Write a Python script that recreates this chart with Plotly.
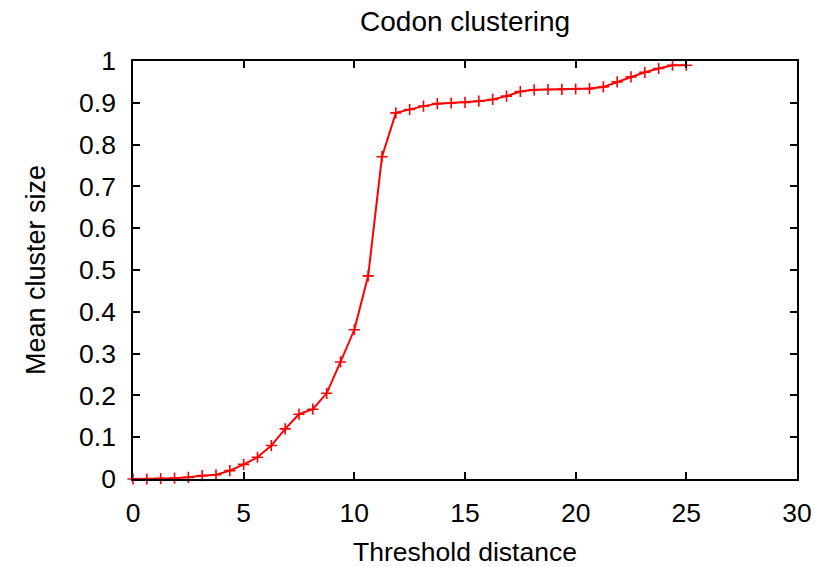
import plotly.graph_objects as go

# Threshold distance sampled in steps of 0.625
threshold = [i * 0.625 for i in range(41)]

mean_cluster_size = [
    0.000, 0.000, 0.001, 0.002, 0.004, 0.008, 0.010, 0.020, 0.035, 0.052,
    0.080, 0.120, 0.155, 0.167, 0.205, 0.280, 0.357, 0.486, 0.771, 0.876,
    0.884, 0.892, 0.898, 0.8995, 0.901, 0.904, 0.908, 0.916, 0.927, 0.931,
    0.9318, 0.932, 0.933, 0.934, 0.938, 0.950, 0.962, 0.973, 0.982, 0.990,
    0.990,
]

x_ticks = [0, 5, 10, 15, 20, 25, 30]
y_ticks = [0, 0.1, 0.2, 0.3, 0.4, 0.5, 0.6, 0.7, 0.8, 0.9, 1]
y_tick_text = ["0", "0.1", "0.2", "0.3", "0.4", "0.5", "0.6", "0.7", "0.8", "0.9", "1"]

FONT = "Liberation Sans, Arial, sans-serif"

fig = go.Figure()
fig.add_trace(go.Scatter(
    x=threshold,
    y=mean_cluster_size,
    mode="lines+markers",
    line=dict(color="#ff0000", width=2),
    marker=dict(symbol="cross-thin", size=8, color="#ff0000",
                line=dict(color="#ff0000", width=1.6)),
    showlegend=False,
    cliponaxis=False,
))

axis_common = dict(
    showline=True, linecolor="black", linewidth=1.5, mirror="ticks",
    ticks="inside", ticklen=7, tickwidth=1.5, tickcolor="black",
    showgrid=False, zeroline=False, automargin=False,
    tickfont=dict(family=FONT, size=26.5, color="black"),
)

fig.update_xaxes(
    range=[0, 30], tickvals=x_ticks, ticklabelstandoff=9,
    title=dict(text="Threshold distance", font=dict(family=FONT, size=26.5, color="black"), standoff=18),
    **axis_common,
)
fig.update_yaxes(
    range=[0, 1], tickvals=y_ticks, ticktext=y_tick_text, ticklabelstandoff=10,
    title=dict(text="Mean cluster size", font=dict(family=FONT, size=27, color="black"), standoff=26),
    **axis_common,
)

fig.update_layout(
    width=838, height=567,
    margin=dict(l=133, r=41, t=61, b=88),
    paper_bgcolor="white", plot_bgcolor="white",
    title=dict(text="Codon clustering", x=0.555, xanchor="center",
               y=0.963, yanchor="middle", yref="container",
               font=dict(family=FONT, size=28, color="black")),
)

fig.write_html("out.html")
